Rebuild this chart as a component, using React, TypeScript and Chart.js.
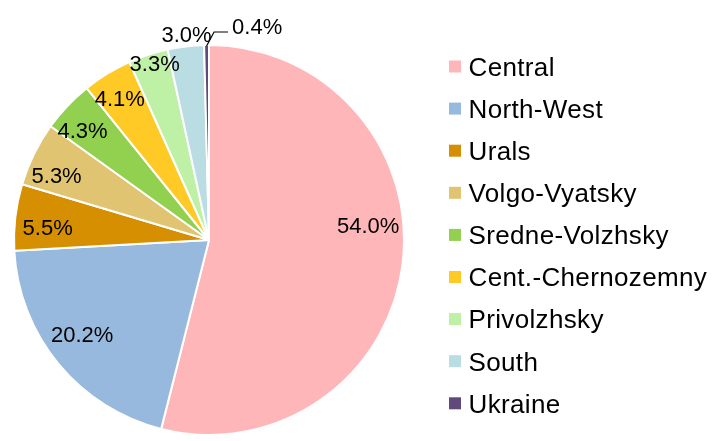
import React, { useEffect, useRef } from "react";
import { Chart, registerables } from "chart.js";

Chart.register(...registerables);

const categories = [
  "Central",
  "North-West",
  "Urals",
  "Volgo-Vyatsky",
  "Sredne-Volzhsky",
  "Cent.-Chernozemny",
  "Privolzhsky",
  "South",
  "Ukraine",
];
const shares = [54.0, 20.2, 5.5, 5.3, 4.3, 4.1, 3.3, 3.0, 0.4];
const percentLabels = ["54.0%", "20.2%", "5.5%", "5.3%", "4.3%", "4.1%", "3.3%", "3.0%", "0.4%"];
const colors = [
  "#FFB6B9",
  "#97B9DD",
  "#D68F00",
  "#E0C472",
  "#92D050",
  "#FFC926",
  "#BEF0A6",
  "#B9DDE2",
  "#604A7B",
];
// label placement tweaks (degrees shift from slice middle, radius fraction)
const labelAngleShift = [-12.5, 2.9, -2.2, -3, -2.4, -0.7, 1.1, 0.6, 0];
const labelRadius = [0.82, 0.81, 0.83, 0.85, 0.86, 0.86, 0.95, 1.06, 1.0];
const leaderIndex = 8;

const FONT = '"Liberation Sans", Arial, Helvetica, sans-serif';

const pieLabels = {
  id: "pieLabels",
  afterDatasetsDraw(chart: any) {
    const meta = chart.getDatasetMeta(0);
    const ctx = chart.ctx as CanvasRenderingContext2D;
    ctx.save();
    ctx.font = `22px ${FONT}`;
    ctx.fillStyle = "#000";
    ctx.textBaseline = "alphabetic";
    meta.data.forEach((arc: any, i: number) => {
      const { x, y, startAngle, endAngle, outerRadius } = arc.getProps(
        ["x", "y", "startAngle", "endAngle", "outerRadius"],
        true
      );
      const mid = (startAngle + endAngle) / 2 + (labelAngleShift[i] * Math.PI) / 180;
      if (i === leaderIndex) {
        const sx = x + Math.cos(mid) * (outerRadius - 1);
        const sy = y + Math.sin(mid) * (outerRadius - 1);
        const ex = sx + 7.5;
        const ey = sy - 14;
        const hx = ex + 14;
        ctx.strokeStyle = "#000";
        ctx.lineWidth = 1.2;
        ctx.beginPath();
        ctx.moveTo(sx, sy);
        ctx.lineTo(ex, ey);
        ctx.lineTo(hx, ey);
        ctx.stroke();
        ctx.textAlign = "left";
        ctx.fillText(percentLabels[i], hx + 4, ey + 2);
      } else {
        const r = outerRadius * labelRadius[i];
        ctx.textAlign = "center";
        ctx.fillText(percentLabels[i], x + Math.cos(mid) * r, y + Math.sin(mid) * r + 7.9);
      }
    });
    ctx.restore();
  },
};

const sideLegend = {
  id: "sideLegend",
  afterDraw(chart: any) {
    const ctx = chart.ctx as CanvasRenderingContext2D;
    const labels: string[] = chart.data.labels;
    const bg: string[] = chart.data.datasets[0].backgroundColor;
    ctx.save();
    ctx.font = `26px ${FONT}`;
    (ctx as any).letterSpacing = "0.35px";
    ctx.textAlign = "left";
    ctx.textBaseline = "alphabetic";
    labels.forEach((lab, i) => {
      const cy = 66.5 + i * 42.1;
      ctx.fillStyle = bg[i];
      ctx.fillRect(449, cy - 6, 12, 12);
      ctx.fillStyle = "#000";
      ctx.fillText(lab, 468.5, cy + 9.3);
    });
    ctx.restore();
  },
};

export default function App() {
  const ref = useRef<HTMLCanvasElement | null>(null);
  useEffect(() => {
    if (!ref.current) return;
    const chart = new Chart(ref.current, {
      type: "pie",
      data: {
        labels: categories,
        datasets: [
          {
            data: shares,
            backgroundColor: colors,
            borderColor: "#FFFFFF",
            borderWidth: 2,
          },
        ],
      },
      options: {
        responsive: false,
        animation: false,
        events: [],
        radius: 195,
        layout: { padding: { left: 15, right: 314, top: 46, bottom: 7 } },
        plugins: {
          legend: { display: false },
          tooltip: { enabled: false },
        },
      } as any,
      plugins: [pieLabels, sideLegend],
    });
    return () => chart.destroy();
  }, []);
  return (
    <div style={{ position: "fixed", left: 0, top: 0, width: 717, height: 441, background: "#fff" }}>
      <canvas ref={ref} width={717} height={441} style={{ display: "block" }} />
    </div>
  );
}
